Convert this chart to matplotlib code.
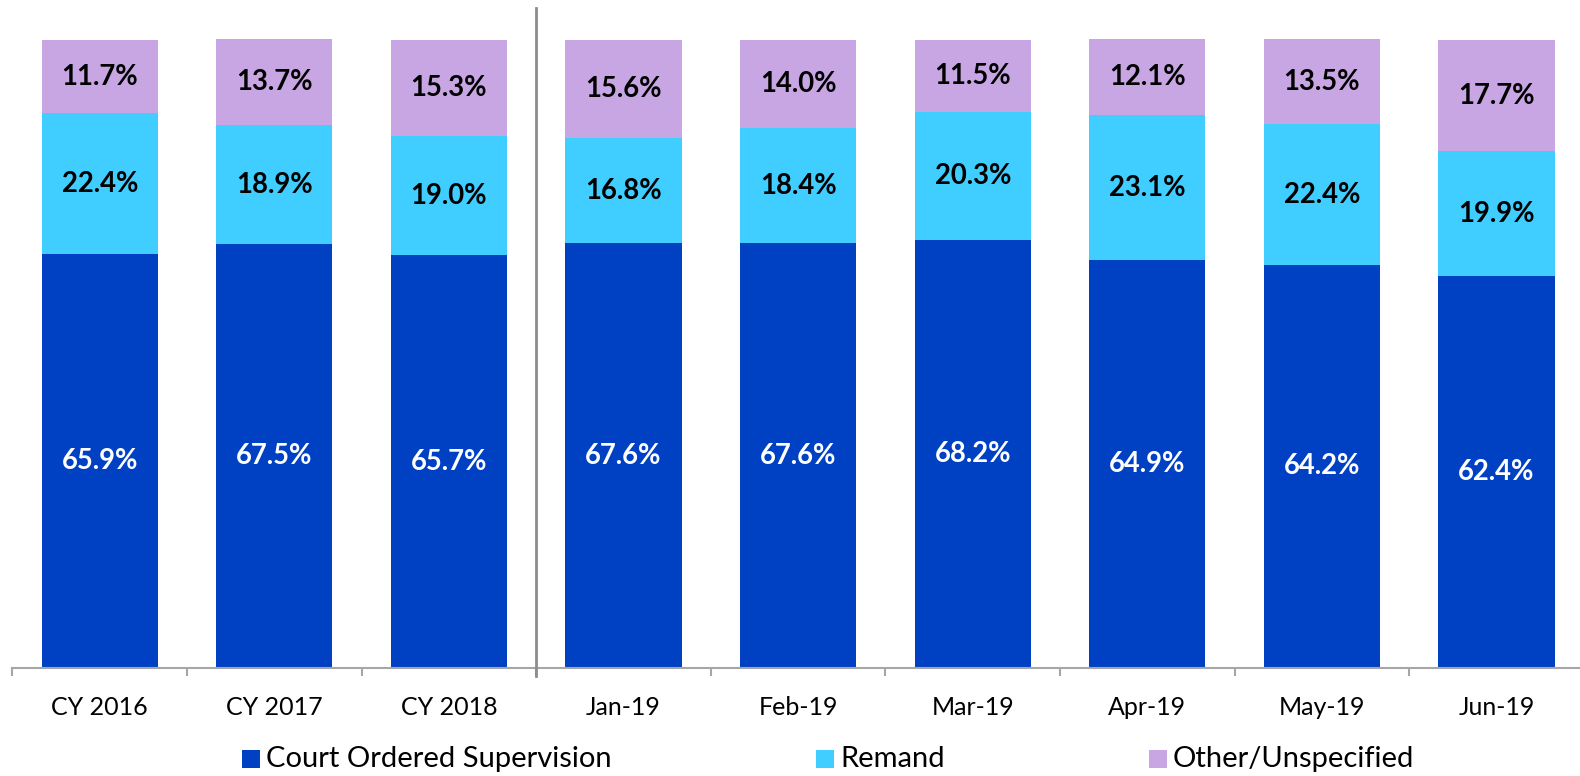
import matplotlib
matplotlib.use("Agg")
import matplotlib.pyplot as plt
from matplotlib.patches import Rectangle
import numpy as np

categories = ["CY 2016", "CY 2017", "CY 2018", "Jan-19", "Feb-19", "Mar-19", "Apr-19", "May-19", "Jun-19"]
court = [65.9, 67.5, 65.7, 67.6, 67.6, 68.2, 64.9, 64.2, 62.4]
remand = [22.4, 18.9, 19.0, 16.8, 18.4, 20.3, 23.1, 22.4, 19.9]
other = [11.7, 13.7, 15.3, 15.6, 14.0, 11.5, 12.1, 13.5, 17.7]
series_names = ["Court Ordered Supervision", "Remand", "Other/Unspecified"]
colors = ["#0041C4", "#40CDFF", "#C8A6E3"]
label_colors = ["white", "black", "black"]

plt.rcParams['font.family'] = ['Lato', 'DejaVu Sans']

W, H = 1580, 776
fig = plt.figure(figsize=(W / 100, H / 100), dpi=100)
left_px, right_px = 12.4, 1583.8
top_px, bottom_px = 8, 668
ax = fig.add_axes([left_px / W, 1 - bottom_px / H, (right_px - left_px) / W, (bottom_px - top_px) / H])

x = np.arange(len(categories))
bar_w = 0.665
bottoms = np.zeros(len(categories))
for vals, col, lc in zip([court, remand, other], colors, label_colors):
    vals = np.array(vals)
    ax.bar(x, vals, bottom=bottoms, width=bar_w, color=col, edgecolor='none', zorder=2)
    for xi, b, v in zip(x, bottoms, vals):
        ax.text(xi, b + v / 2, f"{v:.1f}%", ha='center', va='center', color=lc,
                fontsize=19.8, fontweight='bold', zorder=3)
    bottoms += vals

ax.set_xlim(-0.5, len(categories) - 0.5)
ax.set_ylim(0, 105.1)
for s in ['top', 'left', 'right']:
    ax.spines[s].set_visible(False)
ax.spines['bottom'].set_color('#A6A6A6')
ax.spines['bottom'].set_linewidth(1.5)
ax.set_yticks([])
ax.set_xticks(x)
ax.set_xticklabels(categories, fontsize=18)
ax.tick_params(axis='x', which='major', length=0, pad=20)
ax.set_xticks(np.arange(-0.5, len(categories), 1.0), minor=True)
ax.tick_params(axis='x', which='minor', length=5.5, width=1.5, color='#A6A6A6', direction='out')

# separator between annual and monthly
ax.plot([2.5, 2.5], [-1.3, 105.1], color='#8C8C8C', lw=2, clip_on=False, zorder=4)

# legend (manual)
legend_x = [242, 816, 1149]
ly = 759
sq = 18
for lx, name, col in zip(legend_x, series_names, colors):
    fig.patches.append(Rectangle((lx / W, 1 - (ly + sq / 2) / H), sq / W, sq / H,
                                 transform=fig.transFigure, facecolor=col, edgecolor='none'))
    fig.text((lx + sq + 6) / W, 1 - ly / H, name, ha='left', va='center', fontsize=21)

fig.savefig("out.png", dpi=100)
